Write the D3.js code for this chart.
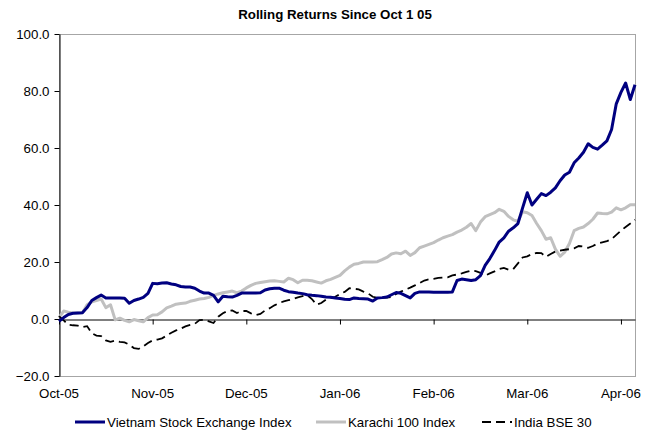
<!DOCTYPE html>
<html>
<head>
<meta charset="utf-8">
<script src="https://cdn.jsdelivr.net/npm/d3@7.9.0/dist/d3.min.js"></script>
<style>
  body { margin: 0; background: #fff; }
  svg { font-family: "Liberation Sans", Arial, sans-serif; }
</style>
</head>
<body>
<svg id="chart" width="660" height="434"></svg>
<script>
// one point per trading day, Oct 1 05 onward; tick every 20 points
const monthLabels = ['Oct-05', 'Nov-05', 'Dec-05', 'Jan-06', 'Feb-06', 'Mar-06', 'Apr-06'];
const yTicks = [-20, 0, 20, 40, 60, 80, 100];

const vietnam = [
  -0.8, 0.5, 1.6, 2.0, 2.1, 2.2, 4.0, 6.5, 7.5, 8.4,
  7.4, 7.4, 7.4, 7.4, 7.3, 5.5, 6.5, 7.0, 7.6, 9.0,
  12.5, 12.4, 12.6, 12.7, 12.3, 12.0, 11.4, 11.2, 11.2, 10.8,
  9.8, 9.1, 9.1, 8.3, 6.0, 8.0, 7.8, 7.7, 8.3, 9.1,
  9.1, 9.1, 9.1, 9.2, 10.2, 10.6, 10.8, 10.8, 10.1, 9.6,
  9.4, 9.1, 8.9, 8.5, 8.3, 8.2, 8.0, 7.7, 7.6, 7.4,
  7.2, 6.9, 6.8, 7.4, 7.2, 7.1, 7.0, 6.3, 7.4, 7.5,
  7.7, 8.5, 9.3, 9.0, 8.2, 7.4, 9.0, 9.5, 9.5, 9.5,
  9.4, 9.4, 9.4, 9.4, 9.5, 13.5, 14.0, 13.8, 13.5, 13.8,
  15.2, 18.8, 21.2, 24.0, 27.0, 28.5, 30.8, 32.0, 33.5, 39.0,
  44.3, 40.0, 42.0, 44.0, 43.3, 44.5, 46.0, 48.5, 50.5, 51.5,
  54.8, 56.5, 58.5, 61.5, 60.2, 59.6, 61.0, 62.5, 66.5, 75.5,
  79.5, 82.8, 77.0, 82.2
];

const karachi = [
  0.5, 2.8, 2.4, 2.1, 2.1, 2.2, 5.0, 6.0, 6.5, 7.0,
  4.0, 5.0, -0.3, 0.3, -0.5, -1.0, -0.2, -0.6, -1.0, 0.5,
  1.4, 1.5, 2.5, 3.9, 4.5, 5.2, 5.4, 5.6, 6.2, 6.6,
  7.0, 7.2, 7.6, 8.3, 8.8, 9.2, 9.5, 9.8, 9.2, 9.8,
  10.9, 11.8, 12.5, 12.8, 13.1, 13.3, 13.4, 13.2, 13.0, 14.3,
  13.8, 12.7, 13.6, 13.6, 13.4, 13.0, 12.6, 13.4, 13.9, 14.6,
  15.3, 16.9, 18.2, 19.2, 19.5, 20.0, 20.0, 20.0, 20.1, 20.8,
  21.6, 22.8, 23.2, 22.9, 23.8, 22.3, 23.3, 25.0, 25.6, 26.2,
  26.8, 27.7, 28.5, 29.1, 29.6, 30.5, 31.2, 32.2, 33.5, 31.0,
  34.0, 35.9, 36.6, 37.3, 38.5, 37.8, 36.0, 34.8, 34.3, 37.6,
  37.3, 36.3, 33.5, 31.0, 28.0, 28.5, 24.5, 22.0, 23.5, 26.5,
  31.0, 31.8, 32.3, 33.5, 35.0, 37.2, 37.0, 36.9, 37.5, 39.0,
  38.3, 39.0, 40.1, 40.1
];

const india = [
  1.0, -0.5, -2.0, -2.2, -2.3, -2.8, -2.5, -5.0, -5.8, -6.0,
  -7.5, -8.0, -7.6, -8.0, -8.2, -9.0, -10.2, -10.5, -9.6, -8.4,
  -7.5, -7.2, -6.8, -5.8, -4.8, -4.0, -3.4, -2.6, -2.1, -1.7,
  -0.4, -0.3, -0.8, -1.4, 0.8, 2.0, 2.8, 3.0, 2.1, 2.8,
  2.8, 2.0, 1.4, 1.8, 3.0, 3.8, 4.8, 5.6, 6.2, 6.6,
  7.0, 7.6, 8.0, 8.4, 7.0, 5.0, 5.6, 6.8, 7.3, 7.8,
  8.8, 9.5, 10.8, 10.6, 10.4, 9.6, 9.0, 7.8, 7.4, 7.4,
  7.5, 7.7, 8.8, 9.6, 10.3, 11.0, 11.8, 12.6, 13.5, 13.9,
  14.1, 14.4, 14.5, 14.6, 15.3, 15.6, 16.0, 16.5, 17.0, 16.8,
  16.2, 15.2, 16.0, 16.7, 17.5, 17.9, 17.3, 17.5, 19.5, 21.6,
  22.0, 22.8, 23.2, 23.1, 21.8, 22.8, 23.7, 24.0, 24.3, 24.5,
  24.8, 25.6, 25.4, 25.0, 25.6, 26.5, 26.9, 27.3, 28.0, 29.5,
  31.0, 32.3, 33.5, 34.8
];

const seriesNames = ['Vietnam Stock Exchange Index', 'Karachi 100 Index', 'India BSE 30'];
const seriesColors = ['#000080', '#c0c0c0', '#000000'];

const svg = d3.select('#chart');
const margin = { left: 59, right: 25, top: 34, bottom: 58 };
const W = 660, H = 434;
const fs = '13.3px';

const x = d3.scaleLinear().domain([0, vietnam.length - 1]).range([margin.left, W - margin.right]);
const y = d3.scaleLinear().domain([-20, 100]).range([H - margin.bottom, margin.top]);

// title
svg.append('text')
  .attr('x', 335).attr('y', 19)
  .attr('text-anchor', 'middle')
  .style('font-size', fs).style('font-weight', 'bold')
  .text('Rolling Returns Since Oct 1 05');

// plot area border (grey)
svg.append('rect')
  .attr('x', x.range()[0] + 0.5).attr('y', y(100) + 0.5)
  .attr('width', x.range()[1] - x.range()[0]).attr('height', y(-20) - y(100))
  .attr('fill', 'none').attr('stroke', '#a6a6a6');

// y axis
const yAxis = svg.append('g')
  .attr('transform', `translate(${x.range()[0] + 0.5},0)`)
  .call(d3.axisLeft(y).tickValues(yTicks).tickFormat(d3.format('.1f')).tickSize(5).tickSizeOuter(0));
yAxis.select('.domain').attr('stroke', '#000');
yAxis.selectAll('text').style('font-size', fs).attr('fill', '#000').attr('dx', '-2px');

// x axis at zero with tick marks, labels along the bottom
const tickIdx = monthLabels.map((_, i) => i * 20);
const xAxis = svg.append('g')
  .attr('transform', `translate(0,${Math.round(y(0)) + 0.5})`)
  .call(d3.axisBottom(x).tickValues(tickIdx).tickFormat('').tickSize(5).tickSizeOuter(0));
xAxis.select('.domain').attr('stroke', '#000');

svg.append('g').selectAll('text')
  .data(monthLabels)
  .enter().append('text')
  .attr('x', (d, i) => x(tickIdx[i]))
  .attr('y', y(-20) + 22)
  .attr('text-anchor', 'middle')
  .style('font-size', fs)
  .text(d => d);

// lines
const line = d3.line().x((d, i) => x(i)).y(d => y(d));

svg.append('path').datum(karachi)
  .attr('d', line).attr('fill', 'none')
  .attr('stroke', seriesColors[1]).attr('stroke-width', 3).attr('stroke-linejoin', 'round');
svg.append('path').datum(india)
  .attr('d', line).attr('fill', 'none')
  .attr('stroke', seriesColors[2]).attr('stroke-width', 1.8).attr('stroke-dasharray', '9,5');
svg.append('path').datum(vietnam)
  .attr('d', line).attr('fill', 'none')
  .attr('stroke', seriesColors[0]).attr('stroke-width', 3).attr('stroke-linejoin', 'round');

// legend
const legendX = [75, 316, 482];
const leg = svg.append('g').attr('transform', 'translate(0,422)');
seriesNames.forEach((name, i) => {
  const g = leg.append('g').attr('transform', `translate(${legendX[i]},0)`);
  g.append('line')
    .attr('x1', 0).attr('x2', 30).attr('y1', 0).attr('y2', 0)
    .attr('stroke', seriesColors[i])
    .attr('stroke-width', i === 2 ? 2 : 3)
    .attr('stroke-dasharray', i === 2 ? '9,5' : null);
  g.append('text')
    .attr('x', 32).attr('y', 5)
    .style('font-size', fs)
    .text(name);
});
</script>
</body>
</html>
